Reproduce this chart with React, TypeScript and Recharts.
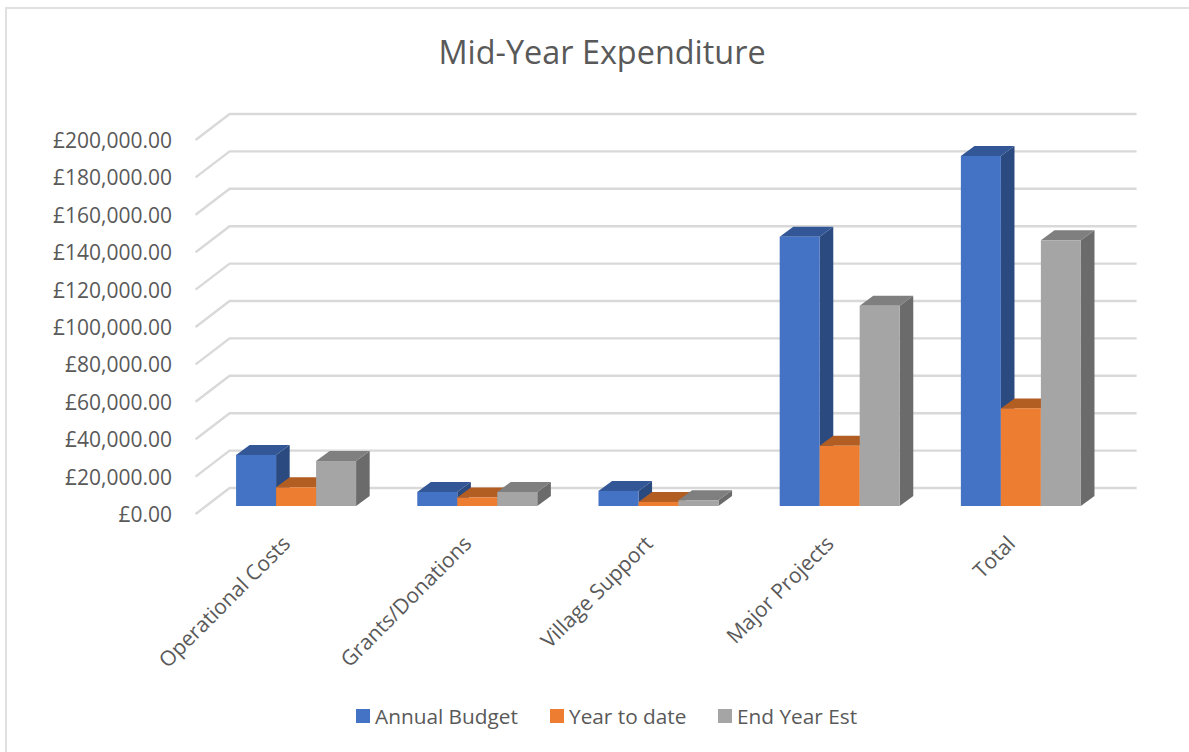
import React from "react";
import { BarChart, Bar, XAxis, YAxis, CartesianGrid, Legend } from "recharts";

const categories = ["Operational Costs", "Grants/Donations", "Village Support", "Major Projects", "Total"];
const annualBudget = [27300, 7500, 8050, 144000, 187200];
const yearToDate = [10000, 4550, 2200, 32200, 52200];
const endYearEst = [24050, 7500, 3100, 107100, 142100];
const yTicks = [0, 20000, 40000, 60000, 80000, 100000, 120000, 140000, 160000, 180000, 200000];

const rows = categories.map((name, i) => ({
  name,
  annualBudget: annualBudget[i],
  yearToDate: yearToDate[i],
  endYearEst: endYearEst[i],
}));

const FONT = "'Open Sans', sans-serif";
const TEXT = "#595959";
const GRID = "#D9D9D9";

// Oblique projection: bars stand slightly inside the floor, the wall sits behind them.
const FRONT_DX = -10.4;
const FRONT_DY = 8;
const BACK_DX = 23.6;
const BACK_DY = -18;
const BAR_DX = 13.6;
const BAR_DY = -10;

const faces: Record<string, { front: string; top: string; side: string }> = {
  annualBudget: { front: "#4472C4", top: "#335796", side: "#2A4A80" },
  yearToDate: { front: "#ED7D31", top: "#B25D22", side: "#9E521C" },
  endYearEst: { front: "#A5A5A5", top: "#7F7F7F", side: "#6B6B6B" },
};

function Box(props: any) {
  const { x, y, width, height, dataKey } = props;
  const c = faces[dataKey];
  const right = x + width;
  const bottom = y + height;
  return (
    <g>
      <polygon
        points={`${right},${y} ${right + BAR_DX},${y + BAR_DY} ${right + BAR_DX},${bottom + BAR_DY} ${right},${bottom}`}
        fill={c.side}
      />
      <polygon
        points={`${x},${y} ${x + BAR_DX},${y + BAR_DY} ${right + BAR_DX},${y + BAR_DY} ${right},${y}`}
        fill={c.top}
      />
      <rect x={x} y={y} width={width} height={height} fill={c.front} />
    </g>
  );
}

function GridLine(props: any) {
  const { x1, x2, y1 } = props;
  return (
    <g>
      <polyline
        points={`${x1 + FRONT_DX},${y1 + FRONT_DY} ${x1 + BACK_DX},${y1 + BACK_DY} ${x2 + BACK_DX + 1},${y1 + BACK_DY}`}
        fill="none"
        stroke={GRID}
        strokeWidth={2.4}
      />
    </g>
  );
}

function ValueTick(props: any) {
  const { y, payload } = props;
  const label =
    "£" + Number(payload.value).toLocaleString("en-GB", { minimumFractionDigits: 2, maximumFractionDigits: 2 });
  return (
    <text x={172} y={y + 9} dy={7} textAnchor="end" fontFamily={FONT} fontSize={21} fill={TEXT}>
      {label}
    </text>
  );
}

function CategoryTick(props: any) {
  const { x, y, payload } = props;
  const ax = x - 5;
  const ay = y + 31;
  return (
    <text
      x={ax}
      y={ay}
      textAnchor="end"
      fontFamily={FONT}
      fontSize={21}
      fill={TEXT}
      transform={`rotate(-45 ${ax} ${ay})`}
    >
      {payload.value}
    </text>
  );
}

function LegendRow(props: any) {
  const lefts = [356, 550, 718];
  return (
    <div style={{ position: "relative", width: 1189, height: 30 }}>
      {(props.payload || []).map((item: any, i: number) => (
        <div key={item.value} style={{ position: "absolute", left: lefts[i], top: 0, whiteSpace: "nowrap" }}>
          <span
            style={{
              position: "absolute",
              left: 0,
              top: 6,
              width: 14,
              height: 14,
              background: item.color,
            }}
          />
          <span
            style={{
              position: "absolute",
              left: 19,
              top: 0,
              fontFamily: FONT,
              fontSize: 20.8,
              lineHeight: "26px",
              color: TEXT,
            }}
          >
            {item.value}
          </span>
        </div>
      ))}
    </div>
  );
}

export default function App() {
  return (
    <div style={{ position: "absolute", left: 0, top: 0, width: 1189, height: 752, background: "#fff" }}>
      <div
        style={{
          position: "absolute",
          left: 5,
          top: 7,
          width: 1184,
          height: 745,
          boxSizing: "border-box",
          borderLeft: "2px solid #E0E0E0",
          borderTop: "2px solid #E0E0E0",
        }}
      />
      <BarChart
        width={1189}
        height={752}
        data={rows}
        barCategoryGap="16.6%"
        barGap={0}
        margin={{ top: 132, right: 77, bottom: 215, left: 205 }}
        style={{ position: "absolute", left: 0, top: 0 }}
      >
        <text x={602} y={64} textAnchor="middle" fontFamily={FONT} fontSize={32.4} fill={TEXT}>
          Mid-Year Expenditure
        </text>
        <CartesianGrid horizontal={GridLine} vertical={false} />
        <XAxis
          dataKey="name"
          axisLine={false}
          tickLine={false}
          interval={0}
          tick={CategoryTick}
          height={1}
        />
        <YAxis
          width={1}
          domain={[0, 200000]}
          ticks={yTicks}
          axisLine={false}
          tickLine={false}
          tick={ValueTick}
          interval={0}
        />
        <Legend
          content={LegendRow}
          itemSorter={null}
          wrapperStyle={{ position: "absolute", left: 0, top: 703, width: 1189 }}
        />
        <Bar dataKey="annualBudget" name="Annual Budget" fill="#4472C4" shape={Box} isAnimationActive={false} />
        <Bar dataKey="yearToDate" name="Year to date" fill="#ED7D31" shape={Box} isAnimationActive={false} />
        <Bar dataKey="endYearEst" name="End Year Est" fill="#A5A5A5" shape={Box} isAnimationActive={false} />
      </BarChart>
    </div>
  );
}
